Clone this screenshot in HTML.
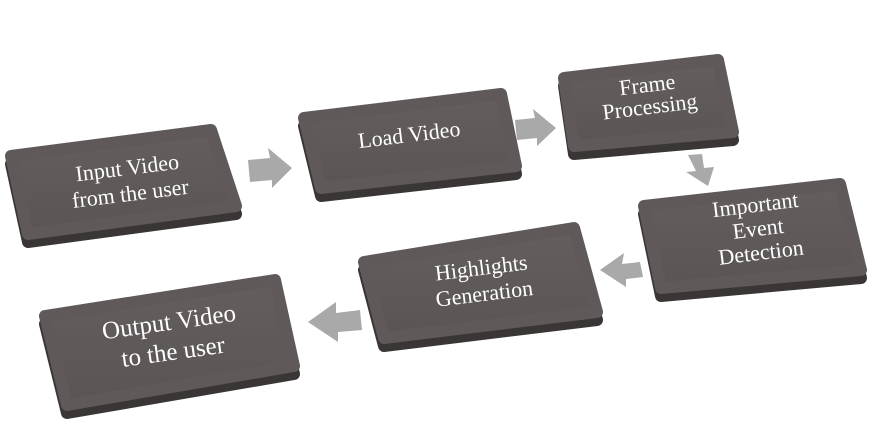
<!DOCTYPE html>
<html><head><meta charset="utf-8"><style>
html,body{margin:0;padding:0;background:#fff;width:883px;height:438px;overflow:hidden}
text{font-family:"Liberation Serif",serif;fill:#fff;font-size:22px;text-anchor:middle}
</style></head><body>
<svg width="883" height="438" viewBox="0 0 883 438" xmlns="http://www.w3.org/2000/svg">
<defs>
<linearGradient id="g" x1="0" y1="0" x2="0" y2="1">
<stop offset="0" stop-color="#645f5e"/><stop offset="1" stop-color="#5a5554"/>
</linearGradient>
</defs>
<g stroke-linejoin="round">
<polygon points="11,156 211,130 236,206 28,234" fill="#3a3635" stroke="#3a3635" stroke-width="12" transform="translate(0,8)"/>
<polygon points="11,156 211,130 236,206 28,234" fill="url(#g)" stroke="#5f5a59" stroke-width="12"/>

<polygon points="304,118 501,94 516,166 321,188" fill="#3a3635" stroke="#3a3635" stroke-width="12" transform="translate(0,8)"/>
<polygon points="304,118 501,94 516,166 321,188" fill="url(#g)" stroke="#5f5a59" stroke-width="12"/>

<polygon points="564,78 718,60 733,132 574,146" fill="#3a3635" stroke="#3a3635" stroke-width="12" transform="translate(0,8)"/>
<polygon points="564,78 718,60 733,132 574,146" fill="url(#g)" stroke="#5f5a59" stroke-width="12"/>

<polygon points="644,206 840,184 861,270 661,288" fill="#3a3635" stroke="#3a3635" stroke-width="12" transform="translate(0,8)"/>
<polygon points="644,206 840,184 861,270 661,288" fill="url(#g)" stroke="#5f5a59" stroke-width="12"/>

<polygon points="364,262 574,228 597,312 384,338" fill="#3a3635" stroke="#3a3635" stroke-width="12" transform="translate(0,8)"/>
<polygon points="364,262 574,228 597,312 384,338" fill="url(#g)" stroke="#5f5a59" stroke-width="12"/>

<polygon points="45,316 275,280 294,366 67,405" fill="#3a3635" stroke="#3a3635" stroke-width="12" transform="translate(0,8)"/>
<polygon points="45,316 275,280 294,366 67,405" fill="url(#g)" stroke="#5f5a59" stroke-width="12"/>
</g>
<g fill="#a9a9a9">
<polygon points="248,160 270,158 268,148 292,168 272,188 272,180 250,182"/>
<polygon points="515,120 535,118 533,109 556,128 537,146 537,138 517,140"/>
<polygon points="688,155 702,154 704,168 714,167 708,186 686,172 696,171"/>
<polygon points="640,262 622,264 624,253 600,270 626,287 626,279 643,277"/>
<polygon points="360,310 336,313 336,302 308,322 338,342 338,332 362,330"/>
</g>
<g>
<text transform="translate(128,175) rotate(-7)"><tspan x="0" y="0">Input Video</tspan><tspan x="0" y="26">from the user</tspan></text>
<text transform="translate(410,142) rotate(-7)" x="0" y="0">Load Video</text>
<text transform="translate(648,92) rotate(-7)"><tspan x="0" y="0">Frame</tspan><tspan x="0" y="22">Processing</tspan></text>
<text transform="translate(756,212) rotate(-7)"><tspan x="0" y="0">Important</tspan><tspan x="0" y="24">Event</tspan><tspan x="0" y="48">Detection</tspan></text>
<text transform="translate(482,275) rotate(-7)"><tspan x="0" y="0">Highlights</tspan><tspan x="0" y="26">Generation</tspan></text>
<text transform="translate(170,330) rotate(-8)" style="font-size:25px"><tspan x="0" y="0">Output Video</tspan><tspan x="0" y="30">to the user</tspan></text>
</g>
</svg>
</body></html>
